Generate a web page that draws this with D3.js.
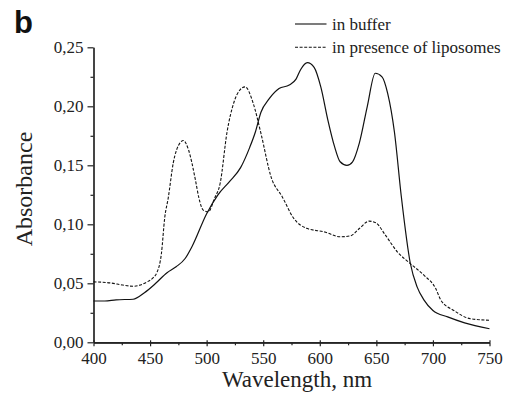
<!DOCTYPE html>
<html>
<head>
<meta charset="utf-8">
<script src="https://cdn.jsdelivr.net/npm/d3@7"></script>
<style>
  body { margin: 0; background: #fff; }
  svg { display: block; }
  .axis path, .axis line { stroke: #222; stroke-width: 1.2; }
</style>
</head>
<body>
<svg id="drawing_region"></svg>
<script>
// buffer spectrum (solid)
const bufferNm = [400, 410, 420, 435, 445, 455, 465, 473, 481, 487, 500, 510, 520, 530, 538, 543, 548, 555, 564, 573, 579, 583, 589, 595, 601, 607, 613, 618, 624, 629, 635, 642, 649, 655, 660, 666, 672, 680, 686, 692, 700, 713, 728, 750];
const bufferAbs = [0.035, 0.035, 0.036, 0.0365, 0.042, 0.050, 0.059, 0.064, 0.071, 0.081, 0.109, 0.125, 0.136, 0.148, 0.165, 0.178, 0.195, 0.206, 0.215, 0.218, 0.223, 0.231, 0.237, 0.233, 0.216, 0.189, 0.166, 0.153, 0.150, 0.153, 0.169, 0.200, 0.228, 0.225, 0.211, 0.178, 0.124, 0.067, 0.047, 0.036, 0.027, 0.0215, 0.0165, 0.0115];

// liposome spectrum (dashed)
const liposNm = [400, 415, 426, 435, 447, 453, 456, 460, 463, 466, 470.5, 476.5, 479.5, 484, 490, 493, 497, 501.5, 507, 512, 518, 524, 529.5, 534, 541, 548, 557, 567, 577, 589, 604, 618, 627, 635, 643.5, 649.5, 658, 668.5, 680, 692, 702.5, 707, 718.5, 733, 750];
const liposAbs = [0.0512, 0.0503, 0.0485, 0.0475, 0.051, 0.055, 0.059, 0.075, 0.106, 0.122, 0.152, 0.169, 0.171, 0.163, 0.138, 0.123, 0.112, 0.1106, 0.122, 0.135, 0.178, 0.203, 0.214, 0.2165, 0.203, 0.177, 0.140, 0.123, 0.105, 0.0964, 0.0936, 0.0894, 0.0902, 0.0964, 0.1027, 0.1013, 0.0908, 0.0767, 0.0667, 0.0569, 0.0455, 0.0357, 0.027, 0.020, 0.0187];

const xTicks = [400, 450, 500, 550, 600, 650, 700, 750];
const xMinor = [425, 475, 525, 575, 625, 675, 725];
const yTicks = [0, 0.05, 0.10, 0.15, 0.20, 0.25];
const yMinor = [0.025, 0.075, 0.125, 0.175, 0.225];
const legendLabels = ['in buffer', 'in presence of liposomes'];

const width = 508, height = 394;
const margin = {top: 47.3, right: 18.5, bottom: 51.7, left: 93.5};
const serif = '"Liberation Serif", "Times New Roman", serif';

const svg = d3.select('#drawing_region')
    .attr('width', width)
    .attr('height', height);

const xscale = d3.scaleLinear()
    .domain([400, 750])
    .range([margin.left, width - margin.right]);

const yscale = d3.scaleLinear()
    .domain([0, 0.25])
    .range([height - margin.bottom, margin.top]);

const fmt = d => d3.format('.2f')(d).replace('.', ',');

// minor ticks
svg.append('g')
    .attr('class', 'axis')
    .attr('transform', `translate(0, ${height - margin.bottom})`)
    .call(d3.axisBottom(xscale).tickValues(xMinor).tickSize(3).tickFormat('').tickSizeOuter(0));

svg.append('g')
    .attr('class', 'axis')
    .attr('transform', `translate(${margin.left}, 0)`)
    .call(d3.axisLeft(yscale).tickValues(yMinor).tickSize(3).tickFormat('').tickSizeOuter(0));

// short inner part of the major x ticks (they cross the axis)
svg.append('g')
    .attr('class', 'axis')
    .attr('transform', `translate(0, ${height - margin.bottom})`)
    .call(d3.axisBottom(xscale).tickValues(xTicks).tickSize(-2).tickFormat('').tickSizeOuter(0));

const xaxis_group = svg.append('g')
    .attr('class', 'axis')
    .attr('transform', `translate(0, ${height - margin.bottom})`)
    .call(d3.axisBottom(xscale).tickValues(xTicks).tickSize(4).tickPadding(6).tickSizeOuter(0));

const yaxis_group = svg.append('g')
    .attr('class', 'axis')
    .attr('transform', `translate(${margin.left}, 0)`)
    .call(d3.axisLeft(yscale).tickValues(yTicks).tickSize(6).tickPadding(4).tickFormat(fmt).tickSizeOuter(0));

svg.selectAll('.axis text')
    .attr('font-family', serif)
    .attr('font-size', 17)
    .attr('fill', '#222');

const line = d3.line()
    .x(d => xscale(d[0]))
    .y(d => yscale(d[1]))
    .curve(d3.curveMonotoneX);

svg.append('path')
    .datum(bufferNm.map((n, i) => [n, bufferAbs[i]]))
    .attr('fill', 'none')
    .attr('stroke', '#111')
    .attr('stroke-width', 1.2)
    .attr('d', line);

svg.append('path')
    .datum(liposNm.map((n, i) => [n, liposAbs[i]]))
    .attr('fill', 'none')
    .attr('stroke', '#111')
    .attr('stroke-width', 1.1)
    .attr('stroke-dasharray', '3,1.6')
    .attr('d', line);

// legend
const legend = svg.append('g');
legendLabels.forEach((lab, i) => {
    const y = 24 + i * 23.3;
    legend.append('line')
        .attr('x1', 295).attr('x2', 326.5)
        .attr('y1', y).attr('y2', y)
        .attr('stroke', i === 0 ? '#444' : '#111')
        .attr('stroke-width', i === 0 ? 1.4 : 1.1)
        .attr('stroke-dasharray', i === 0 ? null : '3,1.6');
    legend.append('text')
        .attr('x', 332)
        .attr('y', y + 5.8)
        .attr('font-family', serif)
        .attr('font-size', 17)
        .attr('fill', '#222')
        .text(lab);
});

// axis titles
svg.append('text')
    .attr('x', 297)
    .attr('y', 387)
    .attr('text-anchor', 'middle')
    .attr('font-family', serif)
    .attr('font-size', 23)
    .attr('fill', '#222')
    .text('Wavelength, nm');

svg.append('text')
    .attr('transform', 'rotate(-90)')
    .attr('x', -189)
    .attr('y', 32)
    .attr('text-anchor', 'middle')
    .attr('font-family', serif)
    .attr('font-size', 24)
    .attr('fill', '#222')
    .text('Absorbance');

// panel letter
svg.append('text')
    .attr('x', 14)
    .attr('y', 33)
    .attr('font-family', '"Liberation Sans", Arial, sans-serif')
    .attr('font-weight', 'bold')
    .attr('font-size', 31)
    .attr('fill', '#111')
    .text('b');
</script>
</body>
</html>
